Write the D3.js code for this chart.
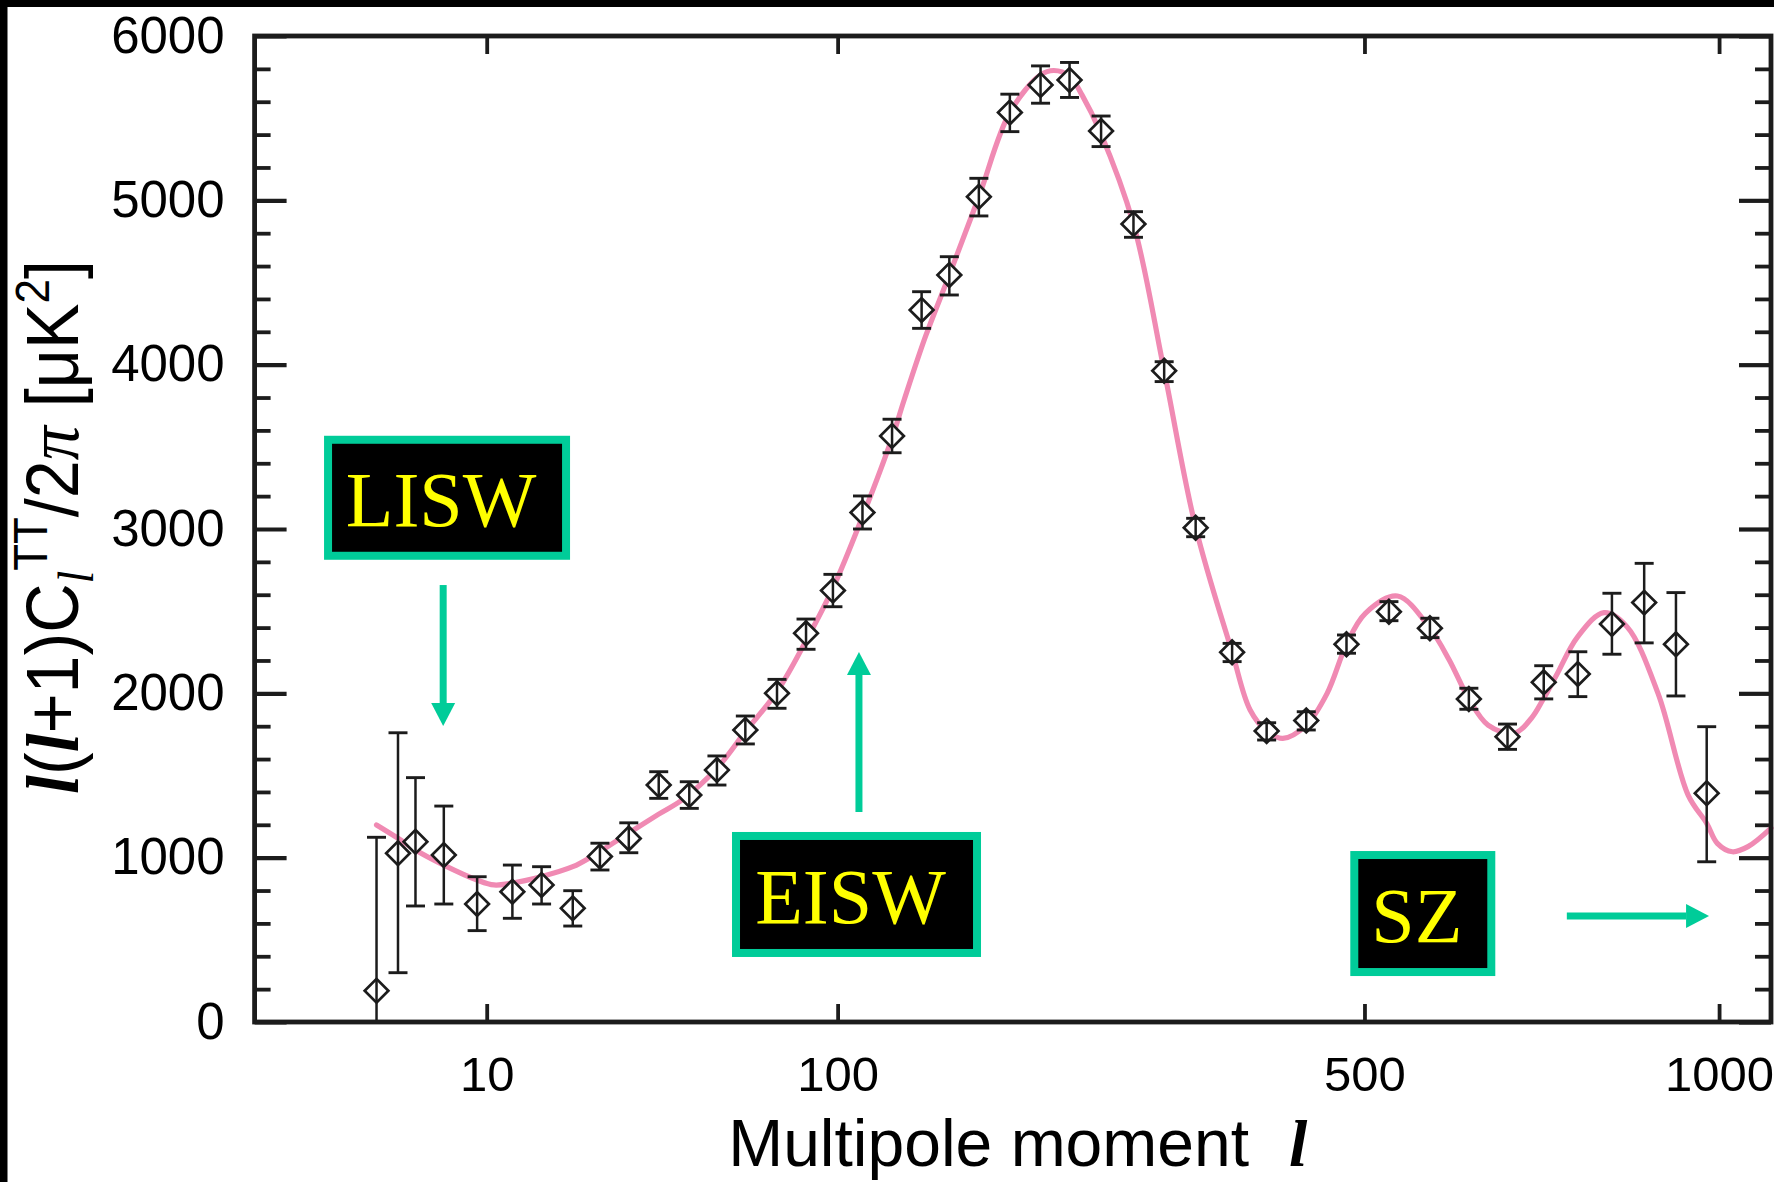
<!DOCTYPE html>
<html>
<head>
<meta charset="utf-8">
<script src="https://cdn.jsdelivr.net/npm/d3@7"></script>
<style>
  html, body { margin: 0; padding: 0; background: #fff; }
  svg { display: block; }
</style>
</head>
<body>
<svg id="chart" width="1774" height="1182"></svg>
<script>
// Binned CMB temperature power spectrum: multipole l, band power l(l+1)C_l/2π in μK²
const ell     = [2, 3, 4, 6, 9, 13, 17, 22, 27, 33, 40, 48, 56, 65, 76, 87, 98, 111, 125, 140, 155, 172, 191, 211, 231, 254, 279, 304, 331, 364, 397, 437, 480, 528, 577, 626, 677, 727, 776, 827, 877, 928, 979];
const power   = [190, 1027, 1097, 1016, 718, 793, 834, 692, 1007, 1117, 1442, 1381, 1533, 1777, 2000, 2365, 2625, 3100, 3566, 4333, 4546, 5022, 5535, 5702, 5732, 5422, 4856, 3963, 3008, 2250, 1771, 1834, 2298, 2497, 2396, 1966, 1736, 2067, 2118, 2422, 2552, 2298, 1392];
const errLow  = [0, 300, 706, 718, 556, 631, 718, 584, 925, 1030, 1361, 1300, 1442, 1692, 1909, 2268, 2527, 3000, 3464, 4221, 4424, 4905, 5418, 5591, 5626, 5327, 4775, 3897, 2953, 2193, 1716, 1777, 2244, 2442, 2339, 1903, 1659, 1966, 1980, 2238, 2307, 1984, 975];
const errHigh = [1124, 1760, 1487, 1314, 884, 955, 945, 799, 1088, 1212, 1523, 1462, 1619, 1862, 2085, 2452, 2724, 3201, 3668, 4444, 4657, 5134, 5646, 5818, 5839, 5513, 4931, 4018, 3065, 2304, 1821, 1888, 2355, 2558, 2457, 2031, 1813, 2168, 2253, 2609, 2791, 2613, 1797];

// Best-fit model spectrum
const modelEll   = [2, 3, 4, 6, 9, 10.8, 12.8, 16.9, 22, 25.4, 33, 40, 46, 56, 65, 76, 87, 98, 111, 125, 131, 142, 155, 172, 191, 211, 220, 231, 240, 253, 279, 304, 331, 364, 381, 397, 413, 437, 459, 480, 501, 538, 577, 601, 626, 651, 686, 710, 727, 745, 776, 815, 850, 899, 948, 979, 997, 1023, 1050, 1091];
const modelPower = [1199, 1118, 1047, 955, 864, 834, 844, 884, 945, 1006, 1150, 1265, 1351, 1544, 1767, 2010, 2320, 2640, 3075, 3555, 3785, 4170, 4546, 5022, 5535, 5763, 5790, 5757, 5640, 5422, 4856, 3963, 3010, 2250, 1899, 1771, 1726, 1807, 2000, 2298, 2487, 2592, 2396, 2203, 1966, 1807, 1757, 1850, 1970, 2110, 2345, 2491, 2406, 2000, 1381, 1209, 1087, 1036, 1067, 1180];

// Axis ticks
const xTicks = [10, 100, 500, 1000];
const yTicks = [0, 1000, 2000, 3000, 4000, 5000, 6000];
const yMinorTicks = [200, 400, 600, 800, 1200, 1400, 1600, 1800, 2200, 2400, 2600, 2800, 3200, 3400, 3600, 3800, 4200, 4400, 4600, 4800, 5200, 5400, 5600, 5800];

// Secondary anisotropy effects labelled on the plot
const effectLabels = ["LISW", "EISW", "SZ"];

// ---------------------------------------------------------------
const W = 1774, H = 1182;
const plot = { left: 254.6, right: 1771, top: 36, bottom: 1022 };
const ink = "#1c1c1c";
const teal = "#00cc99";
const pink = "#f08ab3";

const x = d3.scalePow().exponent(0.4).domain([0, 1091]).range([plot.left, plot.right]);
const y = d3.scaleLinear().domain([0, 6000]).range([plot.bottom, plot.top]);

const svg = d3.select("#chart");

svg.append("rect").attr("width", W).attr("height", H).attr("fill", "#fff");
// dark edge along the top and left of the figure
svg.append("rect").attr("x", 0).attr("y", 0).attr("width", W).attr("height", 7).attr("fill", "#000");
svg.append("rect").attr("x", 0).attr("y", 0).attr("width", 7.5).attr("height", H).attr("fill", "#000");

const sans = "'Liberation Sans', Arial, Helvetica, sans-serif";
const serif = "'Liberation Serif', 'Times New Roman', serif";

// ---- axes (ticks point inwards on all four sides) ----
function styleAxis(g, width, fontSize) {
  g.select(".domain").remove();
  g.selectAll(".tick line").attr("stroke", ink).attr("stroke-width", width);
  g.selectAll(".tick text").attr("fill", "#000").attr("font-family", sans).attr("font-size", fontSize);
}

svg.append("g")
  .attr("transform", `translate(${plot.left},0)`)
  .call(d3.axisLeft(y).tickValues(yTicks).tickSizeInner(-32).tickSizeOuter(0).tickPadding(30).tickFormat(d3.format("d")))
  .call(g => styleAxis(g, 4.2, 51));
svg.append("g")
  .attr("transform", `translate(${plot.left},0)`)
  .call(d3.axisLeft(y).tickValues(yMinorTicks).tickSizeInner(-16).tickSizeOuter(0).tickFormat(""))
  .call(g => styleAxis(g, 3.8));
svg.append("g")
  .attr("transform", `translate(${plot.right},0)`)
  .call(d3.axisRight(y).tickValues(yTicks).tickSizeInner(-32).tickSizeOuter(0).tickFormat(""))
  .call(g => styleAxis(g, 4.2));
svg.append("g")
  .attr("transform", `translate(${plot.right},0)`)
  .call(d3.axisRight(y).tickValues(yMinorTicks).tickSizeInner(-16).tickSizeOuter(0).tickFormat(""))
  .call(g => styleAxis(g, 3.8));
svg.append("g")
  .attr("transform", `translate(0,${plot.bottom})`)
  .call(d3.axisBottom(x).tickValues(xTicks).tickSizeInner(-18).tickSizeOuter(0).tickPadding(34).tickFormat(d3.format("d")))
  .call(g => styleAxis(g, 3.8, 49));
svg.append("g")
  .attr("transform", `translate(0,${plot.top})`)
  .call(d3.axisTop(x).tickValues(xTicks).tickSizeInner(-18).tickSizeOuter(0).tickFormat(""))
  .call(g => styleAxis(g, 3.8));

// ---- model curve ----
const line = d3.line()
  .x(d => x(d[0]))
  .y(d => y(d[1]))
  .curve(d3.curveCatmullRom.alpha(0.5));
svg.append("path")
  .datum(d3.zip(modelEll, modelPower))
  .attr("d", line)
  .attr("fill", "none")
  .attr("stroke", pink)
  .attr("stroke-width", 5.2)
  .attr("stroke-linecap", "round");

// ---- binned data: open diamonds with error bars ----
const points = ell.map((l, i) => ({ l, v: power[i], lo: errLow[i], hi: errHigh[i] }));
const pts = svg.append("g");
pts.selectAll("path.marker")
  .data(points)
  .join("path")
  .attr("class", "marker")
  .attr("d", d3.symbol(d3.symbolSquare, 280))
  .attr("transform", d => `translate(${x(d.l)},${y(d.v)}) rotate(45)`)
  .attr("fill", "#fff")
  .attr("stroke", ink)
  .attr("stroke-width", 2.7);

const bars = pts.selectAll("g.err").data(points).join("g").attr("class", "err")
  .attr("stroke", ink).attr("stroke-width", 2.5);
bars.append("line")
  .attr("x1", d => x(d.l)).attr("x2", d => x(d.l))
  .attr("y1", d => y(d.lo)).attr("y2", d => y(d.hi));
bars.append("line")
  .attr("x1", d => x(d.l) - 9.5).attr("x2", d => x(d.l) + 9.5)
  .attr("y1", d => y(d.hi)).attr("y2", d => y(d.hi))
  .attr("stroke-width", 2.9);
bars.filter(d => d.lo > 0).append("line")
  .attr("x1", d => x(d.l) - 9.5).attr("x2", d => x(d.l) + 9.5)
  .attr("y1", d => y(d.lo)).attr("y2", d => y(d.lo))
  .attr("stroke-width", 2.9);

// ---- frame ----
svg.append("rect")
  .attr("x", plot.left).attr("y", plot.top)
  .attr("width", plot.right - plot.left).attr("height", plot.bottom - plot.top)
  .attr("fill", "none").attr("stroke", ink).attr("stroke-width", 4.8);

// ---- axis titles ----
const xTitle = svg.append("text")
  .attr("x", (plot.left + plot.right) / 2 + 5)
  .attr("y", 1166)
  .attr("text-anchor", "middle")
  .attr("font-family", sans)
  .attr("font-size", 66)
  .attr("fill", "#000");
xTitle.append("tspan").text("Multipole moment");
xTitle.append("tspan").attr("dx", 40)
  .attr("font-family", serif).attr("font-style", "italic").attr("font-weight", "bold")
  .text("l");

const yTitle = svg.append("text")
  .attr("transform", `translate(78,${(258 + 792) / 2 + 2}) rotate(-90) scale(0.975,1.06)`)
  .attr("text-anchor", "middle")
  .attr("font-family", sans)
  .attr("font-size", 70)
  .attr("fill", "#000");
const bi = s => s.attr("font-family", serif).attr("font-style", "italic").attr("font-weight", "bold");
bi(yTitle.append("tspan")).text("l");
yTitle.append("tspan").text("(");
bi(yTitle.append("tspan")).text("l");
yTitle.append("tspan").text("+1)C");
yTitle.append("tspan").attr("font-family", serif).attr("font-style", "italic")
  .attr("font-size", 47).attr("dy", 14).text("l");
yTitle.append("tspan").attr("font-size", 45).attr("dy", -43).text("TT");
yTitle.append("tspan").attr("dy", 29).text("/2");
yTitle.append("tspan").attr("font-family", serif).attr("font-style", "italic").text("π");
yTitle.append("tspan").text(" [μK");
yTitle.append("tspan").attr("font-size", 45).attr("dy", -27).text("2");
yTitle.append("tspan").attr("dy", 27).text("]");

// ---- annotations: labelled boxes with arrows, placed in data coordinates ----
const notes = [
  { label: effectLabels[0], box: [6.26, 3190], w: 238, h: 116, from: [5.95, 2659], to: [5.95, 1801] },
  { label: effectLabels[1], box: [108.3, 776], w: 241, h: 117, from: [109.4, 1278], to: [109.4, 2252] },
  { label: effectLabels[2], box: [568.3, 660], w: 137, h: 117, from: [760, 645], to: [983, 645] }
];

const ann = svg.append("g");
notes.forEach(n => {
  const cx = x(n.box[0]), cy = y(n.box[1]);
  ann.append("rect")
    .attr("x", cx - n.w / 2).attr("y", cy - n.h / 2)
    .attr("width", n.w).attr("height", n.h)
    .attr("fill", "#000").attr("stroke", teal).attr("stroke-width", 8);
  ann.append("text")
    .attr("x", cx - 6).attr("y", cy + 28.5)
    .attr("text-anchor", "middle")
    .attr("font-family", serif).attr("font-size", 78)
    .attr("fill", "#ffff00")
    .text(n.label);

  const x1 = x(n.from[0]), y1 = y(n.from[1]);
  const x2 = x(n.to[0]), y2 = y(n.to[1]);
  const len = Math.hypot(x2 - x1, y2 - y1);
  const ux = (x2 - x1) / len, uy = (y2 - y1) / len;
  const headLen = 23, headHalf = 12;
  const bx = x2 - ux * headLen, by = y2 - uy * headLen;
  ann.append("line")
    .attr("x1", x1).attr("y1", y1).attr("x2", bx).attr("y2", by)
    .attr("stroke", teal).attr("stroke-width", 7);
  ann.append("path")
    .attr("d", `M${x2},${y2}L${bx - uy * headHalf},${by + ux * headHalf}L${bx + uy * headHalf},${by - ux * headHalf}Z`)
    .attr("fill", teal);
});
</script>
</body>
</html>
